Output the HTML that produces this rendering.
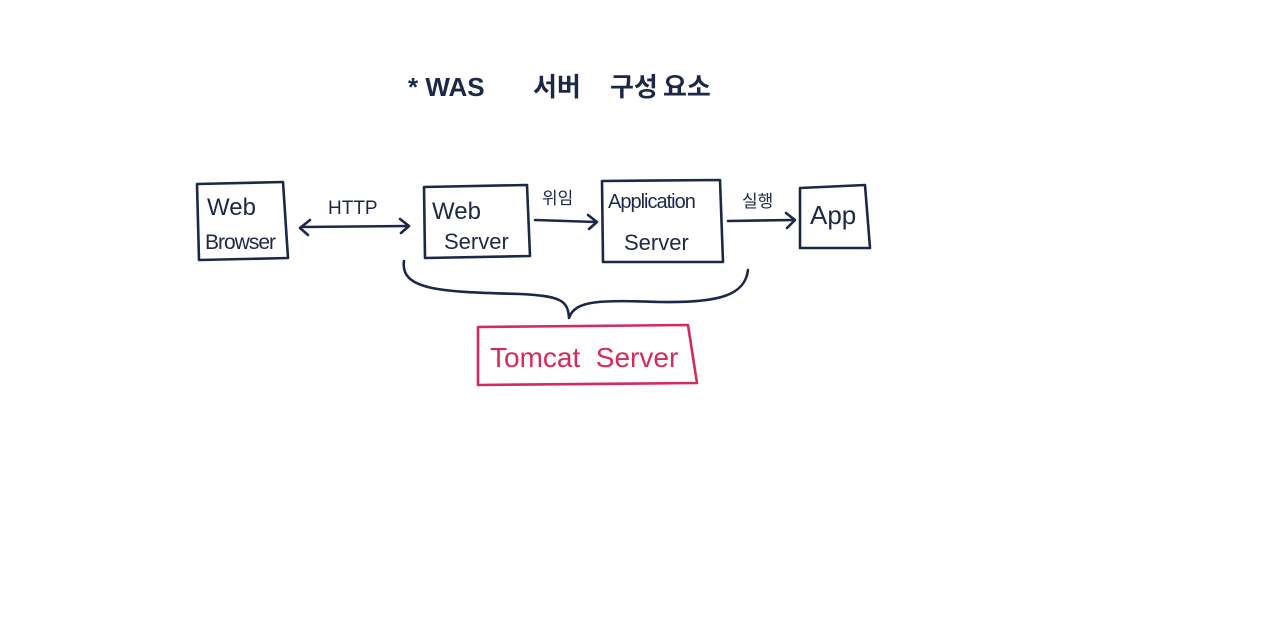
<!DOCTYPE html>
<html><head><meta charset="utf-8"><style>
html,body{margin:0;padding:0;background:#fff;}
svg{display:block}
text{font-family:"Liberation Sans","Noto Sans CJK KR",sans-serif;}
</style></head><body>
<svg width="1280" height="635" viewBox="0 0 1280 635" xmlns="http://www.w3.org/2000/svg">
<g fill="none" stroke="#1c2847" stroke-width="2.6" stroke-linecap="round" stroke-linejoin="round">
<path d="M197 184 L283 182 L288 258 L199 260 Z"/>
<path d="M301 227 L408 226"/>
<path d="M310 220 L300 228 L308 235"/>
<path d="M400 219 L409 226 L401 233"/>
<path d="M424 187 L527 185 L530 256 L425 258 Z"/>
<path d="M535 220 L596 222"/>
<path d="M588 215 L597 222 L589 229"/>
<path d="M602 181 L720 180 L723 262 L603 262 Z"/>
<path d="M728 221 L794 220"/>
<path d="M786 213 L795 220 L787 228"/>
<path d="M800 188 L865 185 L870 248 L800 248 Z"/>
<path d="M404 261 C400 290 440 292 520 294 C560 296 568 300 569 318 C575 300 600 300 660 302 C720 303 745 295 748 270"/>
</g>
<path d="M478 327 L688 325 L697 383 L478 385 Z" fill="none" stroke="#d42a5c" stroke-width="2.6" stroke-linejoin="round"/>
<g fill="#1c2847" font-size="24">
<g font-size="26" font-weight="bold">
<text x="408" y="96">* WAS</text>
<text x="533" y="96">서버</text>
<text x="610" y="96">구성</text>
<text x="663" y="96">요소</text>
</g>
<text x="207" y="215">Web</text>
<text x="205" y="249" font-size="21" letter-spacing="-1">Browser</text>
<text x="328" y="214" font-size="19">HTTP</text>
<text x="432" y="219">Web</text>
<text x="444" y="249" font-size="22">Server</text>
<text x="542" y="204" font-size="17">위임</text>
<text x="608" y="208" font-size="20" letter-spacing="-1">Application</text>
<text x="624" y="250" font-size="22">Server</text>
<text x="742" y="207" font-size="17">실행</text>
<text x="810" y="224" font-size="26">App</text>
</g>
<text x="490" y="367" font-size="28" fill="#d42a5c">Tomcat&#160;&#160;Server</text>
</svg>
</body></html>
